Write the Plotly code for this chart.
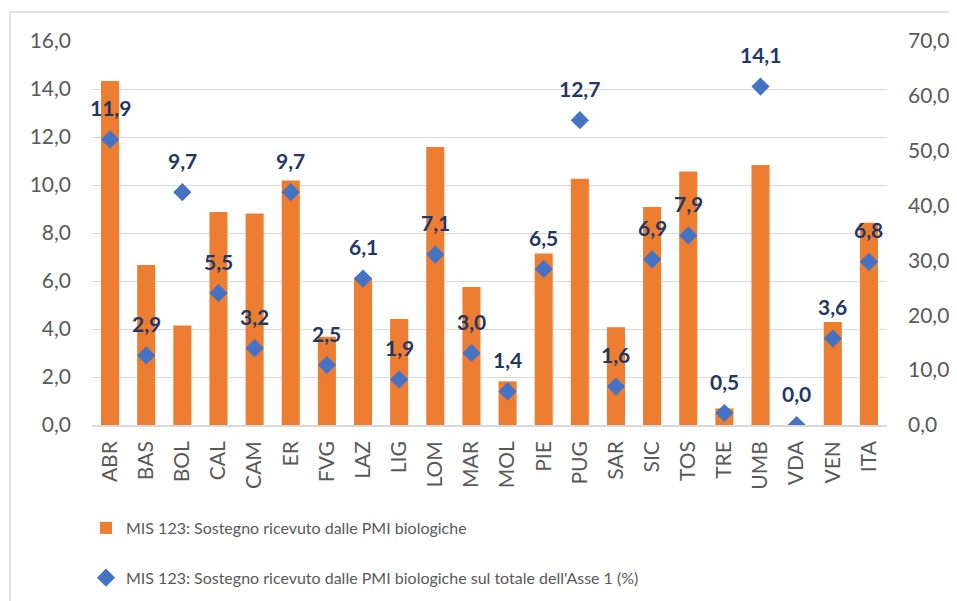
import plotly.graph_objects as go

categories = ["ABR", "BAS", "BOL", "CAL", "CAM", "ER", "FVG", "LAZ", "LIG", "LOM", "MAR",
              "MOL", "PIE", "PUG", "SAR", "SIC", "TOS", "TRE", "UMB", "VDA", "VEN", "ITA"]
sostegno = [14.33, 6.67, 4.15, 8.88, 8.81, 10.19, 3.68, 6.15, 4.42, 11.58, 5.75,
            1.82, 7.15, 10.26, 4.07, 9.08, 10.56, 0.69, 10.83, 0.0, 4.29, 8.43]
quota_asse1 = [11.9, 2.9, 9.7, 5.5, 3.2, 9.7, 2.5, 6.1, 1.9, 7.1, 3.0,
               1.4, 6.5, 12.7, 1.6, 6.9, 7.9, 0.5, 14.1, 0.0, 3.6, 6.8]
left_range = [0, 16]
right_range = [0, 70]

name_bar = "MIS 123: Sostegno ricevuto dalle PMI biologiche"
name_pt = "MIS 123: Sostegno ricevuto dalle PMI biologiche sul totale dell'Asse 1 (%)"

FONT = "Lato, sans-serif"
TICKFONT = dict(family=FONT, size=21, color="#595959")

fig = go.Figure()
fig.add_trace(go.Bar(x=categories, y=sostegno, name=name_bar,
                     marker=dict(color="#ED7D31", line=dict(width=0)),
                     legendgroup="a"))
fig.add_trace(go.Scatter(x=categories, y=quota_asse1, name=name_pt, mode="markers",
                         marker=dict(symbol="diamond", size=14, color="#4472C4"),
                         legendgroup="b"))
fig.add_trace(go.Scatter(x=categories, y=[None] * len(categories), yaxis="y2",
                         showlegend=False, hoverinfo="skip", mode="markers"))

for c, v in zip(categories, quota_asse1):
    fig.add_annotation(x=c, y=v, text=("%.1f" % v).replace(".", ","), showarrow=False,
                       yshift=32, font=dict(family=FONT, size=21,
                                            color="#1F3864", weight="bold"))

# page offset (body margin of the html page)
OFF = 8
PW, PH = 957, 601
PL, PR, PT, PB = 92, 887, 41, 425  # plot area in page pixels
W, H = PW - OFF, PH - OFF
L, T = PL - OFF, PT - OFF
R = W - (PR - OFF)
B = H - (PB - OFF)
pw, ph = PR - PL, PB - PT

def px(x):
    return (x - PL) / pw

def py(y):
    return (PB - y) / ph

def cx(x):
    return (x - OFF) / W

def cy(y):
    return 1 - (y - OFF) / H

fig.add_shape(type="line", xref="paper", yref="paper", x0=px(10), x1=px(10), y0=py(12), y1=py(620),
              line=dict(color="#D9D9D9", width=1.5))
fig.add_shape(type="line", xref="paper", yref="paper", x0=px(10), x1=px(970), y0=py(12), y1=py(12),
              line=dict(color="#D9D9D9", width=1.5))

fig.update_layout(
    width=W, height=H, margin=dict(l=L, r=R, t=T, b=B, autoexpand=False),
    plot_bgcolor="white", paper_bgcolor="white",
    separators=",.", bargap=0.5,
    font=dict(family=FONT, size=20, color="#595959"),
    xaxis=dict(range=[-0.5, len(categories) - 0.5], tickangle=-90, tickfont=TICKFONT,
               showgrid=False, showline=True,
               linecolor="#D9D9D9", linewidth=1.5, ticks="", ticklabelstandoff=6,
               automargin=False),
    yaxis=dict(range=left_range, dtick=2, tickformat=".1f", tickfont=TICKFONT,
               gridcolor="#D9D9D9", gridwidth=1.3, zeroline=False, showline=False,
               ticklabelstandoff=20, automargin=False),
    yaxis2=dict(range=right_range, dtick=10, tickformat=".1f", tickfont=TICKFONT,
                overlaying="y", side="right", showgrid=False, zeroline=False,
                showline=False, ticklabelstandoff=20, automargin=False),
    legend=dict(xref="container", yref="container", x=cx(86), xanchor="left",
                y=cy(511), yanchor="top",
                font=dict(family=FONT, size=16, color="#595959"),
                tracegroupgap=26, bgcolor="rgba(0,0,0,0)"),
    showlegend=True,
)

fig.write_html("out.html")
